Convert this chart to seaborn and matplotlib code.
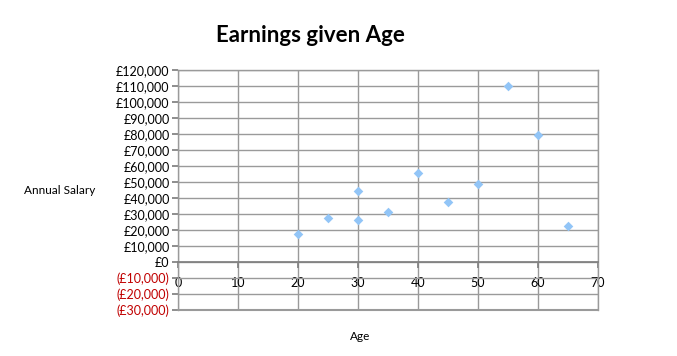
import matplotlib
matplotlib.use("Agg")
import matplotlib.pyplot as plt
import seaborn as sns
import pandas as pd
from matplotlib.ticker import FuncFormatter, MultipleLocator

age = [20, 25, 30, 30, 35, 40, 45, 50, 55, 60, 65]
salary = [17500, 27500, 44500, 26500, 31500, 55500, 37500, 48500, 110000, 79500, 22500]

df = pd.DataFrame({"Age": age, "Annual Salary": salary})

sns.set_theme(style="white")
plt.rcParams['font.family'] = ['Lato', 'DejaVu Sans']

fig = plt.figure(figsize=(6.77, 3.56), dpi=100)
ax = fig.add_axes([178/677, 46/356, 420/677, 240/356])

sns.scatterplot(data=df, x="Age", y="Annual Salary", ax=ax, marker="D",
                color="#92C5F7", edgecolor="#92C5F7", s=24, zorder=3, linewidth=0)

ax.set_xlim(0, 70)
ax.set_ylim(-30000, 120000)
ax.xaxis.set_major_locator(MultipleLocator(10))
ax.yaxis.set_major_locator(MultipleLocator(10000))

def money(v, pos):
    v = int(round(v))
    if v < 0:
        return "(£{:,})".format(-v)
    return "£{:,}".format(v)

ax.yaxis.set_major_formatter(FuncFormatter(money))
ax.grid(True, color="#9a9a9a", linewidth=1.0)
ax.set_axisbelow(True)

for s in ["left", "right", "top"]:
    ax.spines[s].set_color("#9a9a9a")
    ax.spines[s].set_linewidth(1.0)
ax.spines["bottom"].set_position(("data", 0))
ax.spines["bottom"].set_color("#808080")
ax.axhline(-30000, color="#9a9a9a", linewidth=1.5, clip_on=False)

ax.tick_params(axis="both", which="major", direction="out", length=4,
               color="#808080", labelsize=9, labelcolor="black", pad=2)
ax.tick_params(axis="x", bottom=True, pad=7)
ax.tick_params(axis="y", left=True)

for lbl in ax.get_yticklabels():
    txt = lbl.get_text()
    if "(" in txt:
        lbl.set_color("#C00000")

ax.set_xlabel("")
ax.set_ylabel("")

fig.text(310/677, 1 - 36/356, "Earnings given Age", ha="center", va="center",
         fontsize=16, fontweight="bold", color="black")
fig.text(60/677, 1 - 190/356, "Annual Salary", ha="center", va="center",
         fontsize=8.5, color="black")
fig.text(360/677, 1 - 336/356, "Age", ha="center", va="center",
         fontsize=8.5, color="black")

fig.savefig("out.png", dpi=100)
